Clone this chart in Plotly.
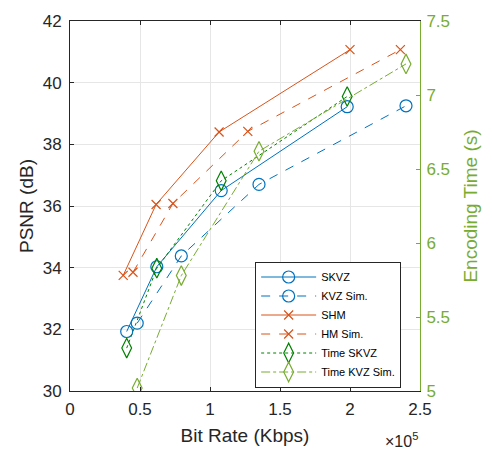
import plotly.graph_objects as go

# Bit rate (Kbps) and PSNR (dB) per configuration
skvz_rate = [40500, 62000, 108000, 198000]
skvz_psnr = [31.93, 34.03, 36.50, 39.22]
kvz_rate = [48000, 79500, 135000, 240000]
kvz_psnr = [32.20, 34.38, 36.70, 39.25]
shm_rate = [38000, 61500, 106500, 200000]
shm_psnr = [33.75, 36.05, 38.40, 41.07]
hm_rate = [45000, 73500, 127000, 236000]
hm_psnr = [33.85, 36.08, 38.42, 41.07]

# Encoding time (s) on the right axis
time_skvz = [5.29, 5.83, 6.42, 6.99]
time_kvz = [5.02, 5.78, 6.62, 7.21]

x_ticks = [0, 50000, 100000, 150000, 200000, 250000]
x_labels = ["0", "0.5", "1", "1.5", "2", "2.5"]
y_ticks = [30, 32, 34, 36, 38, 40, 42]
y2_ticks = [5, 5.5, 6, 6.5, 7, 7.5]

BLUE = "#0072BD"
ORANGE = "#D95319"
DGREEN = "#008000"
LGREEN = "#77AC30"
TXT = "#262626"
FONT = "Liberation Sans, Arial, sans-serif"

fig = go.Figure()

def add(x, y, name, color, dash, symbol, size, yaxis="y"):
    fig.add_trace(go.Scatter(
        x=x, y=y, name=name, mode="lines+markers", yaxis=yaxis,
        line=dict(color=color, width=1, dash=dash),
        marker=dict(symbol=symbol, size=size, color=color,
                    line=dict(color=color, width=1.2)),
    ))

add(skvz_rate, skvz_psnr, "SKVZ", BLUE, "solid", "circle-open", 12)
add(kvz_rate, kvz_psnr, "KVZ Sim.", BLUE, "dash", "circle-open", 12)
add(shm_rate, shm_psnr, "SHM", ORANGE, "solid", "x-thin-open", 9)
add(hm_rate, hm_psnr, "HM Sim.", ORANGE, "dash", "x-thin-open", 9)
add(skvz_rate, time_skvz, "Time SKVZ", DGREEN, "dot", "diamond-tall-open", 14, "y2")
add(kvz_rate, time_kvz, "Time KVZ Sim.", LGREEN, "dashdot", "diamond-tall-open", 14, "y2")

fig.update_layout(
    width=492, height=456,
    margin=dict(l=70, r=72, t=12, b=65),
    paper_bgcolor="white", plot_bgcolor="white",
    font=dict(family=FONT, size=17, color=TXT),
    xaxis=dict(
        range=[0, 250000], tickvals=x_ticks, ticktext=x_labels,
        showgrid=True, gridcolor="#E6E6E6", gridwidth=1,
        showline=True, linecolor=TXT, linewidth=1, mirror="ticks",
        ticks="inside", ticklen=4, tickcolor=TXT, zeroline=False,
        ticklabelstandoff=3,
        title=dict(text="Bit Rate (Kbps)", font=dict(size=19), standoff=10),
        tickfont=dict(size=17),
    ),
    yaxis=dict(
        range=[30, 42], tickvals=y_ticks,
        showgrid=True, gridcolor="#E6E6E6", gridwidth=1,
        showline=True, linecolor=TXT, linewidth=1,
        ticks="inside", ticklen=4, tickcolor=TXT, zeroline=False,
        ticklabelstandoff=4,
        title=dict(text="PSNR (dB)", font=dict(size=19), standoff=4),
        tickfont=dict(size=17),
    ),
    yaxis2=dict(
        range=[5, 7.5], tickvals=y2_ticks, overlaying="y", side="right",
        showgrid=False, showline=True, linecolor=LGREEN, linewidth=1,
        ticks="inside", ticklen=4, tickcolor=LGREEN, zeroline=False,
        ticklabelstandoff=2,
        tickfont=dict(size=17, color=LGREEN),
        title=dict(text="Encoding Time (s)", font=dict(size=19, color=LGREEN), standoff=14),
    ),
    legend=dict(
        x=0.529, y=0.35, xanchor="left", yanchor="top",
        bgcolor="white", bordercolor=TXT, borderwidth=1,
        font=dict(size=11, color="black"), tracegroupgap=0,
        itemwidth=55,
    ),
    showlegend=True,
)

fig.add_annotation(
    x=1.0, y=-0.1, xref="paper", yref="paper", xanchor="right", yanchor="top",
    text="×10<sup>5</sup>", showarrow=False, font=dict(size=16, color=TXT),
)

fig.write_html("out.html")
